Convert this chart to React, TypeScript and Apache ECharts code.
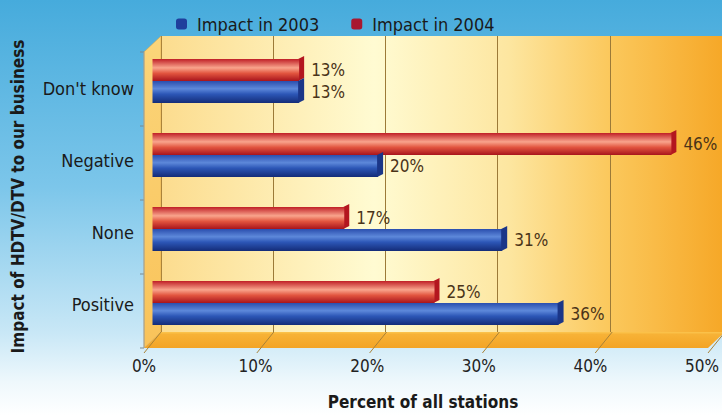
import React, { useEffect, useRef } from "react";
import * as echarts from "echarts";

const categories = ["Positive", "None", "Negative", "Don't know"];
const impact2003 = [36, 31, 20, 13];
const impact2004 = [25, 17, 46, 13];
const xTicks = [0, 10, 20, 30, 40, 50];

const W = 722;
const H = 415;
const FL = 144, FR = 708, FT = 52, FB = 348;
const DX = 17, DY = -16;
const BAR = 22;
const FONT = "'Liberation Sans Narrow', 'DejaVu Sans Condensed', 'Liberation Sans', Arial, sans-serif";

const lin = (x2: number, y2: number, stops: [number, string][]) =>
  new echarts.graphic.LinearGradient(0, 0, x2, y2, stops.map(([offset, color]) => ({ offset, color })));

const capSeries = (name: string, values: number[], upper: boolean, fill: string) => ({
  name,
  type: "custom",
  xAxisIndex: 1,
  yAxisIndex: 1,
  z: upper ? 3 : 5,
  silent: true,
  data: values.map((v, i) => [v, i]),
  renderItem: (params: any, api: any) => {
    const p = api.coord([api.value(0), api.value(1)]);
    const yTop = upper ? p[1] - BAR : p[1];
    const yBot = upper ? p[1] : p[1] + BAR;
    const d = 5;
    return {
      type: "polygon",
      shape: {
        points: [
          [p[0] - 1, yTop],
          [p[0] + d, yTop - 3],
          [p[0] + d, yBot - 3],
          [p[0] - 1, yBot],
        ],
      },
      style: { fill },
    };
  },
});

export default function App() {
  const ref = useRef<HTMLDivElement>(null);
  useEffect(() => {
    if (!ref.current) return;
    const chart = echarts.init(ref.current, null, { renderer: "svg" });
    const xPix = (v: number) => FL + (v / 50) * (FR - FL);
    const bandH = (FB - FT) / categories.length;
    const graphics: any[] = [
      {
        type: "polygon",
        z: 1,
        shape: { points: [[FL, FB], [FR, FB], [FR + DX, FB + DY], [FL + DX, FB + DY]] },
        style: { fill: lin(0, 1, [[0, "#fbc54e"], [0.15, "#f7b236"], [1, "#f3a425"]]) },
      },
      {
        type: "polygon",
        z: 1,
        shape: { points: [[FL, FT], [FL + DX, FT + DY], [FL + DX, FB + DY], [FL, FB]] },
        style: { fill: lin(0, 1, [[0, "#fbd57a"], [1, "#f9c35a"]]), stroke: "#d9a040", lineWidth: 0.5 },
      },
      ...xTicks.map((v) => ({
        type: "line",
        z: 2,
        shape: { x1: xPix(v), y1: FB + 5, x2: xPix(v) + DX, y2: FB + DY },
        style: { stroke: "#a88238", lineWidth: 1 },
      })),
      ...[0, 1, 2, 3, 4].map((i) => ({
        type: "line",
        z: 2,
        shape: { x1: FL - 4, y1: FT + i * bandH, x2: FL, y2: FT + i * bandH },
        style: { stroke: "#7a8a90", lineWidth: 1 },
      })),
      {
        type: "line",
        z: 2,
        shape: { x1: FL, y1: FT, x2: FL, y2: FB },
        style: { stroke: "#9aa0a0", lineWidth: 1 },
      },
    ];

    const labelStyle = {
      show: true,
      position: "right" as const,
      distance: 12,
      formatter: "{c}%",
      fontFamily: FONT,
      fontSize: 17,
      color: "#4a3318",
    };

    chart.setOption({
      animation: false,
      backgroundColor: lin(0, 1, [
        [0, "#46abdc"],
        [0.45, "#7cc6ea"],
        [0.8, "#c8e7f6"],
        [0.92, "#eef8fc"],
        [1, "#ffffff"],
      ]),
      textStyle: { fontFamily: FONT },
      legend: {
        top: 10,
        left: 171,
        itemWidth: 11,
        itemHeight: 11,
        itemGap: 32,
        textStyle: { fontFamily: FONT, fontSize: 18, color: "#1a1a1a", padding: [0, 0, 0, 5] },
        data: [
          { name: "Impact in 2003", itemStyle: { color: "#1f3f9c" } },
          { name: "Impact in 2004", itemStyle: { color: "#a81830" } },
        ],
      },
      grid: [
        {
          left: FL + DX,
          right: W - (FR + DX),
          top: FT + DY,
          bottom: H - (FB + DY),
          show: true,
          borderWidth: 0,
          backgroundColor: lin(1, 0, [
            [0, "#fcdc8e"],
            [0.38, "#fffbd2"],
            [0.62, "#fde6a0"],
            [0.8, "#fbc85c"],
            [1, "#f6a828"],
          ]),
        },
        {
          left: FL + DX / 2,
          right: W - (FR + DX / 2),
          top: FT + DY / 2,
          bottom: H - (FB + DY / 2),
        },
        { left: FL, right: W - FR, top: FT, bottom: H - FB },
      ],
      xAxis: [
        {
          gridIndex: 0,
          type: "value",
          min: 0,
          max: 50,
          interval: 10,
          axisLabel: { show: false },
          axisTick: { show: false },
          axisLine: { show: false },
          splitLine: { show: true, lineStyle: { color: "#9c7a38", width: 1 } },
        },
        {
          gridIndex: 1,
          type: "value",
          min: 0,
          max: 50,
          interval: 10,
          show: false,
        },
        {
          gridIndex: 2,
          type: "value",
          min: 0,
          max: 50,
          interval: 10,
          axisLine: { show: false },
          axisTick: { show: false },
          splitLine: { show: false },
          axisLabel: {
            formatter: "{value}%",
            fontFamily: FONT,
            fontSize: 17,
            color: "#222",
            margin: 16,
          },
          name: "Percent of all stations",
          nameLocation: "middle",
          nameGap: 52,
          nameTextStyle: { fontFamily: FONT, fontSize: 17, fontWeight: "bold", color: "#1a1a1a" },
        },
      ],
      yAxis: [
        { gridIndex: 0, type: "category", data: categories, show: false },
        { gridIndex: 1, type: "category", data: categories, show: false },
        {
          gridIndex: 2,
          type: "category",
          data: categories,
          axisLine: { show: false },
          axisTick: { show: false },
          splitLine: { show: false },
          axisLabel: { fontFamily: FONT, fontSize: 18, color: "#1a1a1a", margin: 10 },
          name: "Impact of HDTV/DTV to our business",
          nameLocation: "middle",
          nameGap: 118,
          nameRotate: 90,
          nameTextStyle: { fontFamily: FONT, fontSize: 17, fontWeight: "bold", color: "#1a1a1a" },
        },
      ],
      graphic: graphics,
      series: [
        {
          name: "Impact in 2004",
          type: "bar",
          xAxisIndex: 1,
          yAxisIndex: 1,
          data: impact2004,
          barWidth: BAR,
          barGap: "0%",
          z: 3,
          itemStyle: {
            color: lin(0, 1, [
              [0, "#c01f26"],
              [0.4, "#f9a48c"],
              [0.65, "#e2553f"],
              [1, "#a8141c"],
            ]),
          },
          label: labelStyle,
        },
        {
          name: "Impact in 2003",
          type: "bar",
          xAxisIndex: 1,
          yAxisIndex: 1,
          data: impact2003,
          barWidth: BAR,
          barGap: "0%",
          z: 4,
          itemStyle: {
            color: lin(0, 1, [
              [0, "#2a4eae"],
              [0.35, "#5d88da"],
              [0.6, "#2c56b6"],
              [1, "#142c78"],
            ]),
          },
          label: labelStyle,
        },
        capSeries("cap2004", impact2004, true, "#b3161f"),
        capSeries("cap2003", impact2003, false, "#1b3688"),
      ],
    });
    return () => chart.dispose();
  }, []);
  return (
    <div
      ref={ref}
      style={{ position: "absolute", left: 0, top: 0, width: W, height: H }}
    />
  );
}
